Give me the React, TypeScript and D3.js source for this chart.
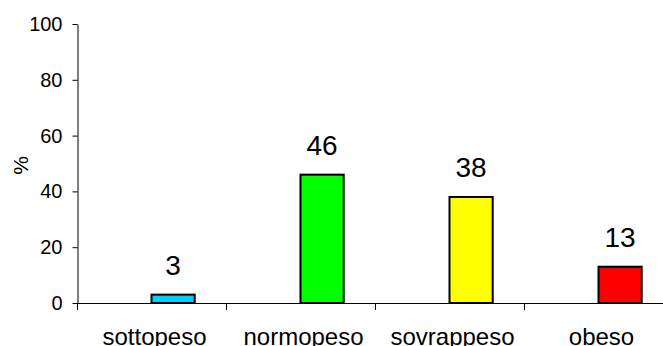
import React, { useEffect, useRef } from 'react';
import * as d3 from 'd3';

const categories = ['sottopeso', 'normopeso', 'sovrappeso', 'obeso'];
const values = [3, 46, 38, 13];
const colors = ['#00CCFF', '#00FF00', '#FFFF00', '#FF0000'];
const yTicks = [0, 20, 40, 60, 80, 100];

const App = () => {
  const ref = useRef<SVGSVGElement>(null);

  useEffect(() => {
    const width = 663;
    const left = 77;
    const top = 24;
    const bottom = 303;
    const font = 'Arial, "Liberation Sans", sans-serif';

    const svg = d3.select(ref.current);
    svg.selectAll('*').remove();

    const x = d3.scaleBand<string>()
      .domain(categories)
      .range([left, left + 4 * 149])
      .padding(0);

    const y = d3.scaleLinear()
      .domain([0, 100])
      .range([bottom, top]);

    // y axis
    const yAxis = svg.append('g')
      .attr('transform', `translate(${left + 0.5},0)`)
      .call(d3.axisLeft(y).tickValues(yTicks).tickSize(5).tickSizeOuter(0).tickPadding(10));
    yAxis.selectAll('text')
      .attr('font-size', 20)
      .attr('font-family', font)
      .attr('fill', '#000');
    yAxis.selectAll('line, path').attr('stroke', '#000');

    // x axis line + boundary ticks
    svg.append('line')
      .attr('x1', left)
      .attr('x2', width)
      .attr('y1', y(0) + 0.5)
      .attr('y2', y(0) + 0.5)
      .attr('stroke', '#000');

    const bounds = categories.map(c => x(c) as number);
    svg.selectAll('.xtick')
      .data(bounds)
      .enter()
      .append('line')
      .attr('x1', d => d + 0.5)
      .attr('x2', d => d + 0.5)
      .attr('y1', y(0))
      .attr('y2', y(0) + 7)
      .attr('stroke', '#000');

    svg.selectAll('.xlabel')
      .data(categories)
      .enter()
      .append('text')
      .attr('x', d => (x(d) as number) + x.bandwidth() / 2 + 3)
      .attr('y', 345)
      .attr('text-anchor', 'middle')
      .attr('font-size', 24)
      .attr('font-family', font)
      .text(d => d);

    // bars
    const barW = x.bandwidth() * 0.29;
    svg.selectAll('.bar')
      .data(values)
      .enter()
      .append('rect')
      .attr('x', (d, i) => (x(categories[i]) as number) + x.bandwidth() / 2)
      .attr('y', d => y(d))
      .attr('width', barW)
      .attr('height', d => y(0) - y(d))
      .attr('fill', (d, i) => colors[i])
      .attr('stroke', '#000')
      .attr('stroke-width', 2);

    svg.selectAll('.value')
      .data(values)
      .enter()
      .append('text')
      .attr('x', (d, i) => (x(categories[i]) as number) + x.bandwidth() / 2 + barW / 2)
      .attr('y', d => y(d) - 20)
      .attr('text-anchor', 'middle')
      .attr('font-size', 28)
      .attr('font-family', font)
      .text(d => d);

    // y label
    svg.append('text')
      .attr('transform', `translate(28,${(top + bottom) / 2 + 2}) rotate(-90)`)
      .attr('text-anchor', 'middle')
      .attr('font-size', 21)
      .attr('font-family', font)
      .text('%');
  }, []);

  return (
    <svg
      ref={ref}
      width={663}
      height={346}
      style={{ position: 'absolute', left: 0, top: 0, background: '#fff' }}
    />
  );
};

export default App;
